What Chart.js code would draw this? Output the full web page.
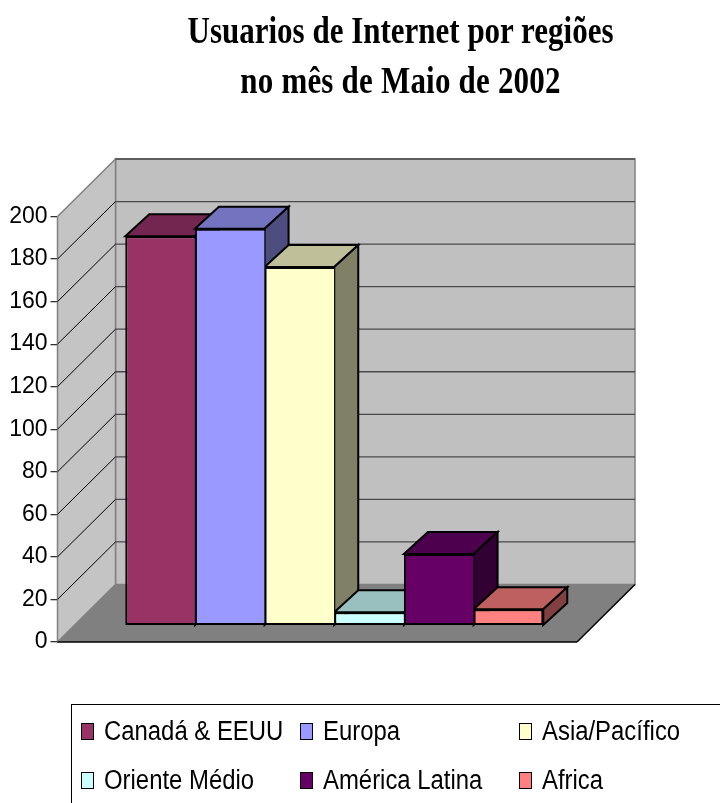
<!DOCTYPE html>
<html>
<head>
<meta charset="utf-8">
<title>Usuarios de Internet</title>
<script src="https://cdn.jsdelivr.net/npm/chart.js@4"></script>
<style>
  html, body { margin: 0; padding: 0; background: #fff; }
  #page { position: relative; width: 720px; height: 803px; overflow: hidden; }
  canvas { position: absolute; left: 0; top: 0; }
  .title {
    position: absolute; left: 400.5px; white-space: pre; color: #000;
    font: bold 31px "Liberation Serif", serif; line-height: 40px;
    transform: translateX(-50%) scaleY(1.2);
  }
  #legend {
    position: absolute; left: 71px; top: 704px; width: 700px; height: 150px;
    border: 1.5px solid #000; box-sizing: border-box;
  }
  .item { position: absolute; }
  .swatch {
    position: absolute; left: 0; top: 0; width: 13px; height: 17px;
    border: 1.5px solid #000; box-sizing: border-box;
  }
  .label {
    position: absolute; left: 23px; top: -9px; white-space: pre; color: #000;
    font: 27px "Liberation Sans", sans-serif; line-height: 34px;
    transform: scaleX(0.885); transform-origin: left center;
  }
</style>
</head>
<body>
<div id="page">
  <canvas id="chart" width="720" height="803"></canvas>
  <div class="title" style="top:11px">Usuarios de Internet por regiões</div>
  <div class="title" style="top:61px;letter-spacing:0.2px">no mês de Maio de 2002</div>
  <div id="legend"></div>
</div>
<script>
const regions = ["Canadá & EEUU", "Europa", "Asia/Pacífico", "Oriente Médio", "América Latina", "Africa"];
const users = [182.7, 186.2, 168.3, 6, 33.4, 7.4];
const frontColors = ["#993366", "#9999ff", "#ffffcc", "#ccffff", "#660066", "#ff8080"];
const topColors = ["#732650", "#7373bf", "#bfbf99", "#99bfbf", "#4d004d", "#bf6060"];
const sideColors = ["#4d1933", "#4d4d80", "#808066", "#668080", "#330033", "#804040"];
const yTicks = [0, 20, 40, 60, 80, 100, 120, 140, 160, 180, 200];

// depth of the walls and of the bars, in pixels
const wallDX = 58, wallDY = 57.5;
const barDX = 24, barDY = 22;
const floorRight = 577;

function poly(ctx, pts, fill, stroke, lw) {
    ctx.beginPath();
    pts.forEach((p, i) => i ? ctx.lineTo(p[0], p[1]) : ctx.moveTo(p[0], p[1]));
    ctx.closePath();
    if (fill) { ctx.fillStyle = fill; ctx.fill(); }
    if (stroke) { ctx.strokeStyle = stroke; ctx.lineWidth = lw; ctx.stroke(); }
}

function line(ctx, x1, y1, x2, y2, color, lw) {
    ctx.beginPath();
    ctx.moveTo(x1, y1);
    ctx.lineTo(x2, y2);
    ctx.strokeStyle = color;
    ctx.lineWidth = lw;
    ctx.stroke();
}

const walls3d = {
    id: "walls3d",
    beforeDatasetsDraw(chart) {
        const ctx = chart.ctx, y = chart.scales.y;
        const left = chart.chartArea.left;
        const y0 = y.getPixelForValue(0), yTop = y.getPixelForValue(200);
        ctx.save();
        // floor
        poly(ctx, [[left, y0], [floorRight, y0], [floorRight + wallDX, y0 - wallDY], [left + wallDX, y0 - wallDY]], "#808080");
        // back wall
        poly(ctx, [[left + wallDX, yTop - wallDY], [floorRight + wallDX, yTop - wallDY], [floorRight + wallDX, y0 - wallDY], [left + wallDX, y0 - wallDY]], "#c0c0c0", "#808080", 1.5);
        // left wall
        poly(ctx, [[left, yTop], [left + wallDX, yTop - wallDY], [left + wallDX, y0 - wallDY], [left, y0]], "#c4c4c4", "#808080", 1.5);
        // grid lines on both walls
        yTicks.forEach(v => {
            if (v === 0) return;
            const py = y.getPixelForValue(v);
            line(ctx, left + wallDX, py - wallDY, floorRight + wallDX, py - wallDY, "#4a4a4a", 1.3);
            if (v < 200) line(ctx, left, py, left + wallDX, py - wallDY, "#000", 1);
        });
        // front edges of the floor
        line(ctx, left, y0, floorRight, y0, "#000", 1.5);
        line(ctx, floorRight, y0, floorRight + wallDX, y0 - wallDY, "#000", 1.5);

        // top and side of each box, left to right, under the fronts the library draws
        ctx.lineJoin = "miter";
        regions.forEach((name, i) => {
            const bar = chart.getDatasetMeta(i).data[0];
            const l = bar.x - bar.width / 2, r = bar.x + bar.width / 2;
            poly(ctx, [[l, bar.y], [l + barDX, bar.y - barDY], [r + barDX, bar.y - barDY], [r, bar.y]], topColors[i], "#000", 2);
            poly(ctx, [[r, bar.y], [r + barDX, bar.y - barDY], [r + barDX, bar.base - barDY], [r, bar.base]], sideColors[i], "#000", 2);
        });
        ctx.restore();
    }
};

const datasets = regions.map((name, i) => ({
    label: name,
    data: [users[i]],
    backgroundColor: frontColors[i],
    borderColor: "#000",
    // neighbours share one line, only the last bar closes its right side
    borderWidth: { top: 2, left: 2, bottom: 2, right: i === regions.length - 1 ? 2 : 0 },
    borderSkipped: false,
    yAxisID: "yBars",
    clip: false
}));

new Chart(document.getElementById("chart"), {
    type: "bar",
    data: { labels: ["Maio 2002"], datasets },
    plugins: [walls3d],
    options: {
        responsive: false,
        animation: false,
        categoryPercentage: 418 / 553.5,
        barPercentage: 1,
        layout: { padding: { left: 0, top: 216.5, right: 109, bottom: 161 } },
        plugins: { legend: { display: false }, title: { display: false }, tooltip: { enabled: false } },
        scales: {
            x: { display: false },
            y: {
                min: 0, max: 200, z: 1,
                afterFit(scale) { scale.width = 57.5; },
                afterBuildTicks(scale) { scale.ticks = yTicks.map(v => ({ value: v })); },
                border: { color: "#333", width: 1.3 },
                grid: { drawOnChartArea: false, color: "#333", tickLength: 7, lineWidth: 1.3 },
                ticks: { color: "#000", padding: 3, font: { family: "'Liberation Sans', sans-serif", size: 23 } }
            },
            // the bars stand 17 px in front of the floor edge, so 0 sits higher on this axis
            yBars: { display: false, min: -8, max: 192 }
        }
    }
});

// legend, three columns over two rows
const legendEl = document.getElementById("legend");
const colX = [9, 228, 447];
const rowY = [18, 67];
regions.forEach((name, i) => {
    const item = document.createElement("div");
    item.className = "item";
    item.style.left = colX[i % 3] + "px";
    item.style.top = rowY[Math.floor(i / 3)] + "px";
    const swatch = document.createElement("div");
    swatch.className = "swatch";
    swatch.style.background = frontColors[i];
    const label = document.createElement("div");
    label.className = "label";
    label.textContent = name;
    item.appendChild(swatch);
    item.appendChild(label);
    legendEl.appendChild(item);
});
</script>
</body>
</html>
